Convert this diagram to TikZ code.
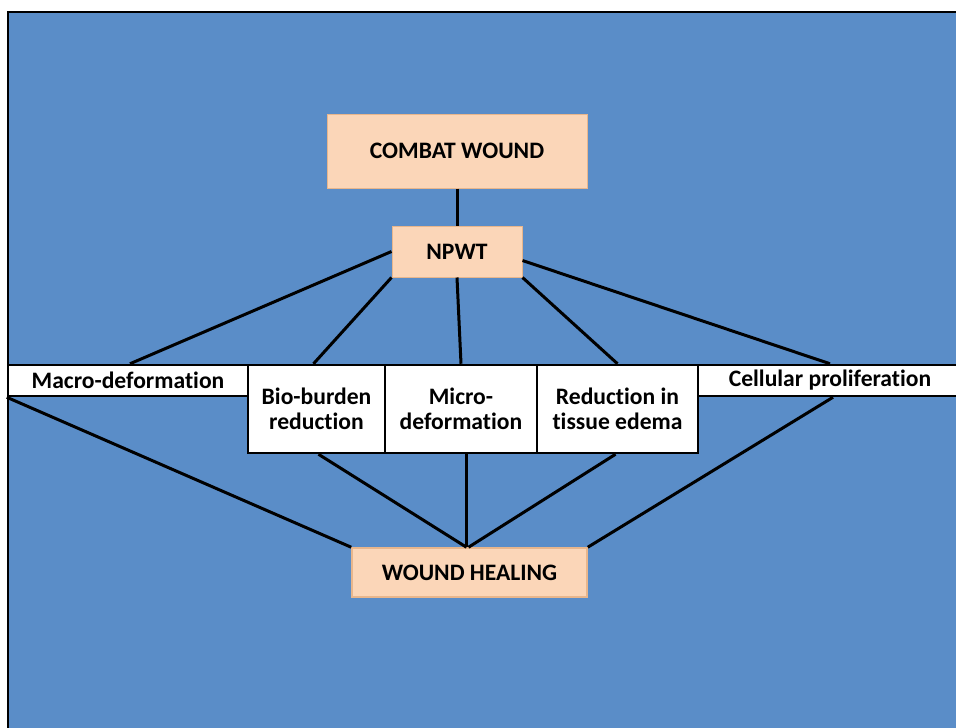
\documentclass[tikz,border=0pt]{standalone}
\usepackage{fontspec}
\setmainfont[Ligatures=NoCommon]{Carlito}
\definecolor{bgblue}{RGB}{90,141,200}
\definecolor{peach}{RGB}{251,214,184}
\definecolor{peachedge}{RGB}{232,182,140}
\begin{document}
\begin{tikzpicture}[x=1pt,y=-1pt,
  txt/.style={font=\fontsize{23.6}{25}\selectfont\bfseries, text=black, align=center, inner sep=0pt},
  peachbox/.style={txt, fill=peach, draw=peachedge, line width=1pt},
  whitebox/.style={txt, fill=white, draw=black, line width=2.5pt},
  conn/.style={draw=black, line width=3pt}
]
\useasboundingbox (0,0) rectangle (956,728);
\fill[white] (0,0) rectangle (956,728);
\fill[bgblue] (8,12) rectangle (956,728);
\draw[black, line width=2pt] (8,728) -- (8,12) -- (956,12);

\node[peachbox, minimum width=260pt, minimum height=74pt] (combat) at (457,151) {COMBAT WOUND};
\node[peachbox, minimum width=130pt, minimum height=51pt] (npwt) at (457,251.5) {NPWT};

\node[whitebox, minimum width=240pt, minimum height=31pt] (macro) at (128,380.5) {Macro-deformation};
\node[whitebox, minimum width=137pt, minimum height=88pt] (bio) at (316.5,409) {Bio-burden\\reduction};
\node[whitebox, minimum width=152pt, minimum height=88pt] (micro) at (461,409) {Micro-\\deformation};
\node[whitebox, minimum width=161pt, minimum height=88pt] (red) at (617.5,409) {Reduction in\\tissue edema};
\node[whitebox, minimum width=264pt, minimum height=31pt] (cell) at (830,380.5) {Cellular proliferation};

\node[peachbox, line width=1.5pt, minimum width=235pt, minimum height=49pt] (wh) at (469.5,572.5) {WOUND HEALING};

\draw[conn] (combat.south) -- (npwt.north);
\draw[conn] (npwt.west) -- ([xshift=2pt]macro.north);
\draw[conn] (npwt.south west) -- ([xshift=-3pt]bio.north);
\draw[conn] (npwt.south) -- (micro.north);
\draw[conn] (npwt.south east) -- (red.north);
\draw[conn] ([yshift=-9pt]npwt.east) -- (cell.north);

\draw[conn] (macro.south west) -- (wh.north west);
\draw[conn] ([xshift=2pt]bio.south) -- ([xshift=-3pt]wh.north);
\draw[conn] ([xshift=5pt]micro.south) -- ([xshift=-3.5pt]wh.north);
\draw[conn] ([xshift=-2pt]red.south) -- ([xshift=-1pt]wh.north);
\draw[conn] ([xshift=3pt]cell.south) -- (wh.north east);
\end{tikzpicture}
\end{document}
